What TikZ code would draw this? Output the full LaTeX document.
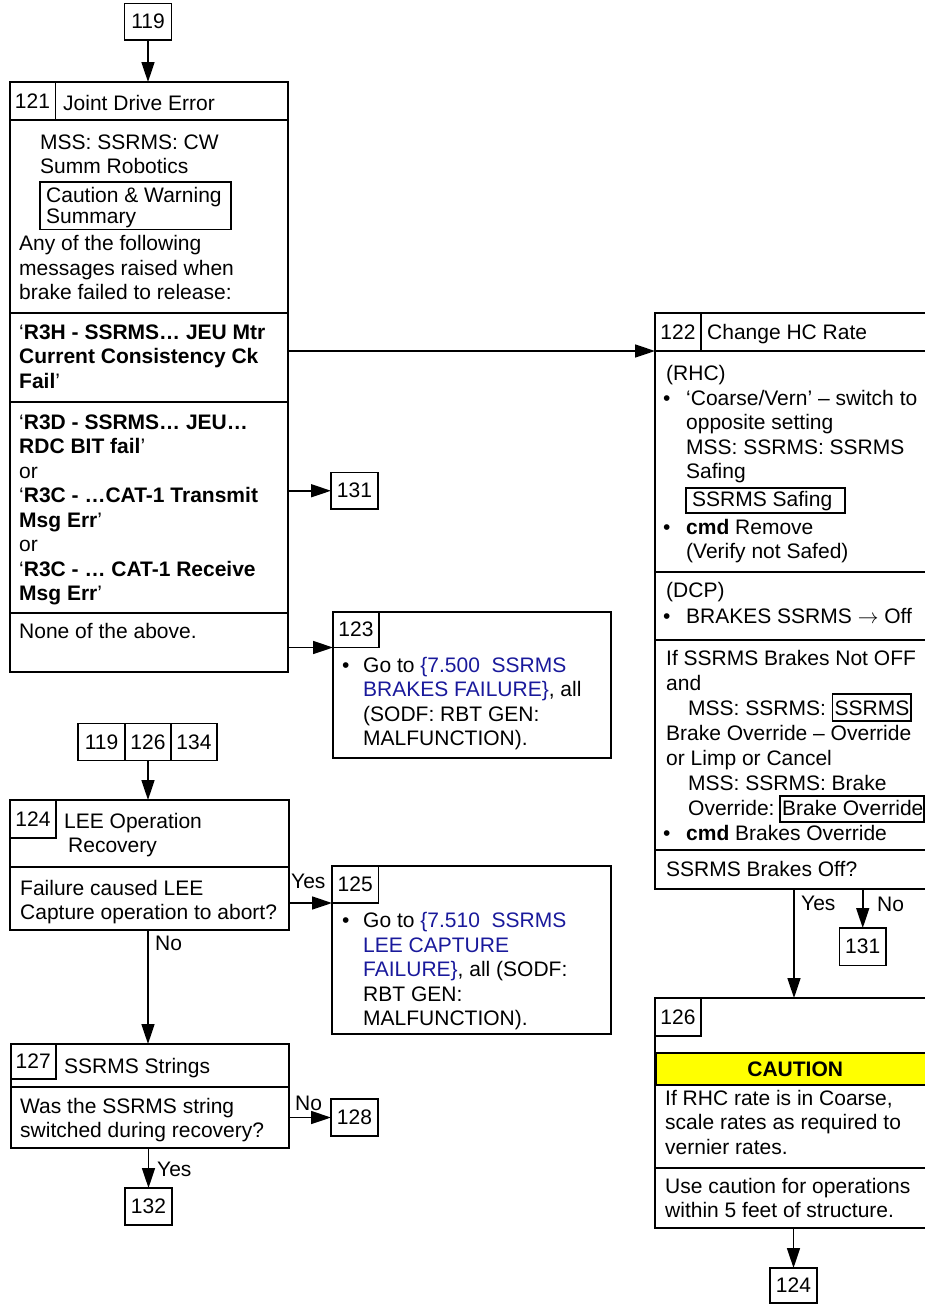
\documentclass[tikz,border=0pt]{standalone}
\usepackage{fontspec}
\setmainfont{Liberation Sans}
\usetikzlibrary{arrows.meta}
\definecolor{linkblue}{RGB}{25,25,155}
\definecolor{cautionyellow}{RGB}{255,255,0}
\newcommand\bodyfont{\fontsize{21}{24.5}\selectfont}
\begin{document}
\begin{tikzpicture}[x=1pt,y=-1pt,font=\bodyfont,
  sect/.style={draw, line width=2pt, anchor=north west, inner sep=0pt, outer sep=0pt},
  cell/.style={draw, line width=1.5pt, anchor=north west, inner sep=0pt, outer sep=0pt},
  refbox/.style={draw, line width=1.6pt, anchor=north west, inner sep=0pt, outer sep=0pt},
  tx/.style={anchor=base west, inner sep=0pt},
  arr/.style={line width=1.6pt, -{Triangle[length=20pt,width=13pt]}}]
\useasboundingbox (0,0) rectangle (925,1304);
\begin{scope}
\clip (0,0) rectangle (925,1304);
% ---------- 119 -> 121
\node[refbox, minimum width=47pt, minimum height=36.5pt] (n119) at (124.5,3.5) {119};
% ---------- Box 121
\node[sect, minimum width=278pt, minimum height=37.5pt] (h121) at (9.5,82) {};
\node[sect, minimum width=278pt, minimum height=193.5pt] (s121a) at (9.5,119.5) {};
\node[sect, minimum width=278pt, minimum height=89pt] (s121b) at (9.5,313) {};
\node[sect, minimum width=278pt, minimum height=211pt] (s121c) at (9.5,402) {};
\node[sect, minimum width=278pt, minimum height=59pt] (s121d) at (9.5,613) {};
\node[cell, minimum width=46pt, minimum height=37.5pt] (c121) at (9.5,82) {121};
\node[tx] (t121h) at (63,110) {Joint Drive Error};
\node[tx] (a1) at (40,149) {MSS: SSRMS: CW};
\node[tx] (a2) at (40,173.5) {Summ Robotics};
\node[refbox, minimum width=191pt, minimum height=47.5pt] (cw) at (40,182) {};
\node[tx] (a3) at (46,202) {Caution \& Warning};
\node[tx] (a4) at (46,223) {Summary};
\node[tx] (a5) at (19,250.5) {Any of the following};
\node[tx] (a6) at (19,275) {messages raised when};
\node[tx] (a7) at (19,299.5) {brake failed to release:};
\node[tx] (b1) at (19,339) {‘\textbf{R3H - SSRMS… JEU Mtr}};
\node[tx] (b2) at (19,363.5) {\textbf{Current Consistency Ck}};
\node[tx] (b3) at (19,388) {\textbf{Fail}’};
\node[tx] (c1) at (19,429) {‘\textbf{R3D - SSRMS… JEU…}};
\node[tx] (c2) at (19,453.5) {\textbf{RDC BIT fail}’};
\node[tx] (c3) at (19,478) {or};
\node[tx] (c4) at (19,502.5) {‘\textbf{R3C - …CAT-1 Transmit}};
\node[tx] (c5) at (19,527) {\textbf{Msg Err}’};
\node[tx] (c6) at (19,551.5) {or};
\node[tx] (c7) at (19,576) {‘\textbf{R3C - … CAT-1 Receive}};
\node[tx] (c8) at (19,600.5) {\textbf{Msg Err}’};
\node[tx] (d1) at (19,638) {None of the above.};
% ---------- 131 (left)
\node[refbox, minimum width=47pt, minimum height=36.5pt] (n131a) at (331,472.5) {131};
% ---------- Box 123
\node[sect, minimum width=278pt, minimum height=145.5pt] (b123) at (333,612) {};
\node[cell, minimum width=46pt, minimum height=35.5pt] (c123) at (333,612) {123};
\node[tx] (k0) at (342,672) {\textbullet};
\node[tx] (k1) at (363,672) {Go to \textcolor{linkblue}{\{7.500\ \ SSRMS}};
\node[tx] (k2) at (363,696.5) {\textcolor{linkblue}{BRAKES FAILURE\}}, all};
\node[tx] (k3) at (363,721) {(SODF: RBT GEN:};
\node[tx] (k4) at (363,745.5) {MALFUNCTION).};
% ---------- 119 126 134
\node[refbox, minimum width=47pt, minimum height=37pt] (n119b) at (78,723.5) {119};
\node[refbox, minimum width=46pt, minimum height=37pt] (n126) at (125,723.5) {126};
\node[refbox, minimum width=46pt, minimum height=37pt] (n134) at (171,723.5) {134};
% ---------- Box 124
\node[sect, minimum width=278.5pt, minimum height=67pt] (h124) at (10,800) {};
\node[sect, minimum width=278.5pt, minimum height=63pt] (s124) at (10,867) {};
\node[cell, minimum width=46pt, minimum height=38pt] (c124) at (10,800) {124};
\node[tx] (l1) at (64,828) {LEE Operation};
\node[tx] (l2) at (68,852) {Recovery};
\node[tx] (l3) at (20,895) {Failure caused LEE};
\node[tx] (l4) at (20,919) {Capture operation to abort?};
\node[tx] (yes1) at (291,888) {Yes};
\node[tx] (no1) at (155,950) {No};
% ---------- Box 125
\node[sect, minimum width=279pt, minimum height=168pt] (b125) at (332,866) {};
\node[cell, minimum width=46.5pt, minimum height=37pt] (c125) at (332,866) {125};
\node[tx] (m0) at (342,927.5) {\textbullet};
\node[tx] (m1) at (363,927.5) {Go to \textcolor{linkblue}{\{7.510\ \ SSRMS}};
\node[tx] (m2) at (363,952) {\textcolor{linkblue}{LEE CAPTURE}};
\node[tx] (m3) at (363,976.5) {\textcolor{linkblue}{FAILURE\}}, all (SODF:};
\node[tx] (m4) at (363,1001) {RBT GEN:};
\node[tx] (m5) at (363,1025.5) {MALFUNCTION).};
% ---------- Box 127
\node[sect, minimum width=278pt, minimum height=43pt] (h127) at (10.5,1044) {};
\node[sect, minimum width=278pt, minimum height=61pt] (s127) at (10.5,1087) {};
\node[cell, minimum width=45.5pt, minimum height=35pt] (c127) at (10.5,1044) {127};
\node[tx] (o1) at (64,1073) {SSRMS Strings};
\node[tx] (o2) at (20,1113.5) {Was the SSRMS string};
\node[tx] (o3) at (20,1137) {switched during recovery?};
\node[tx] (no2) at (295,1110) {No};
\node[tx] (yes2) at (157,1176) {Yes};
\node[refbox, minimum width=47pt, minimum height=37pt] (n128) at (331,1099) {128};
\node[refbox, minimum width=47pt, minimum height=37pt] (n132) at (125,1188) {132};
% ---------- Box 122
\node[sect, minimum width=278pt, minimum height=38pt] (h122) at (655,313) {};
\node[sect, minimum width=278pt, minimum height=221pt] (s122a) at (655,351) {};
\node[sect, minimum width=278pt, minimum height=68pt] (s122b) at (655,572) {};
\node[sect, minimum width=278pt, minimum height=210pt] (s122c) at (655,640) {};
\node[sect, minimum width=278pt, minimum height=39pt] (s122d) at (655,850) {};
\node[cell, minimum width=46pt, minimum height=38pt] (c122) at (655,313) {122};
\node[tx] (r0) at (707,339) {Change HC Rate};
\node[tx] (r1) at (666,380) {(RHC)};
\node[tx] (r2b) at (663,405) {\textbullet};
\node[tx] (r2) at (686,405) {‘Coarse/Vern’ – switch to};
\node[tx] (r3) at (686,429.5) {opposite setting};
\node[tx] (r4) at (686,454) {MSS: SSRMS: SSRMS};
\node[tx] (r5) at (686,478.5) {Safing};
\node[refbox, minimum width=159pt, minimum height=25pt] (safbox) at (686,488) {};
\node[tx] (r6) at (692,506) {SSRMS Safing};
\node[tx] (r7b) at (663,534) {\textbullet};
\node[tx] (r7) at (686,534) {\textbf{cmd} Remove};
\node[tx] (r8) at (686,558.5) {(Verify not Safed)};
\node[tx] (p1) at (666,597) {(DCP)};
\node[tx] (p2b) at (663,623) {\textbullet};
\node[tx] (p2) at (686,623) {BRAKES SSRMS $\rightarrow$ Off};
\node[tx] (q1) at (666,665.5) {If SSRMS Brakes Not OFF};
\node[tx] (q2) at (666,690.5) {and};
\node[tx] (q3) at (688,715.5) {MSS: SSRMS:};
\node[refbox, minimum width=78.5pt, minimum height=27pt] (ssbox) at (832.5,694) {};
\node[tx] (q3b) at (834.5,715.5) {SSRMS};
\node[tx] (q4) at (666,740.5) {Brake Override – Override};
\node[tx] (q5) at (666,765) {or Limp or Cancel};
\node[tx] (q6) at (688,790) {MSS: SSRMS: Brake};
\node[tx] (q7) at (688,815) {Override:};
\node[refbox, minimum width=144pt, minimum height=26pt] (bobox) at (780,796) {};
\node[tx] (q7b) at (782,815) {Brake Override};
\node[tx] (q8b) at (663,840) {\textbullet};
\node[tx] (q8) at (686,840) {\textbf{cmd} Brakes Override};
\node[tx] (e1) at (666,876.5) {SSRMS Brakes Off?};
\node[tx] (yes3) at (801,910) {Yes};
\node[tx] (no3) at (877,911) {No};
\node[refbox, minimum width=46.5pt, minimum height=37.5pt] (n131b) at (839.5,928) {131};
% ---------- Box 126
\node[sect, minimum width=278pt, minimum height=169.5pt] (s126a) at (655,998) {};
\node[sect, minimum width=278pt, minimum height=60pt] (s126b) at (655,1167.5) {};
\node[cell, minimum width=46pt, minimum height=38pt] (c126) at (655,998) {126};
\node[draw, line width=2.4pt, fill=cautionyellow, anchor=north west, inner sep=0pt,
      minimum width=278pt, minimum height=32pt, font=\bodyfont\bfseries] (caution) at (655,1052) {CAUTION};
\node[tx] (f1) at (665,1105) {If RHC rate is in Coarse,};
\node[tx] (f2) at (665,1129.5) {scale rates as required to};
\node[tx] (f3) at (665,1154) {vernier rates.};
\node[tx] (g1) at (665,1193) {Use caution for operations};
\node[tx] (g2) at (665,1217.5) {within 5 feet of structure.};
\node[refbox, minimum width=47pt, minimum height=35pt] (n124b) at (770,1268) {124};
% ---------- Connectors
\draw[arr] (n119.south) -- (n119.south |- h121.north);
\draw[arr] (s121b.east |- h122.south) -- (h122.south west);
\draw[arr] (s121c.east |- n131a.west) -- (n131a.west);
\draw[arr] (s121d.east |- c123.south) -- (c123.south west);
\draw[arr] (n126.south) -- (n126.south |- h124.north);
\draw[arr] (s124.east |- c125.south) -- (c125.south west);
\draw[arr] (n126.south |- s124.south) -- (n126.south |- h127.north);
\draw[arr] (s127.east |- n128.west) -- (n128.west);
\draw[arr] (n132.north |- s127.south) -- (n132.north);
\draw[arr] (s122d.south) -- (s126a.north);
\draw[arr] (n131b.north |- s122d.south) -- (n131b.north);
\draw[arr] (n124b.north |- s126b.south) -- (n124b.north);
\end{scope}
\end{tikzpicture}
\end{document}
